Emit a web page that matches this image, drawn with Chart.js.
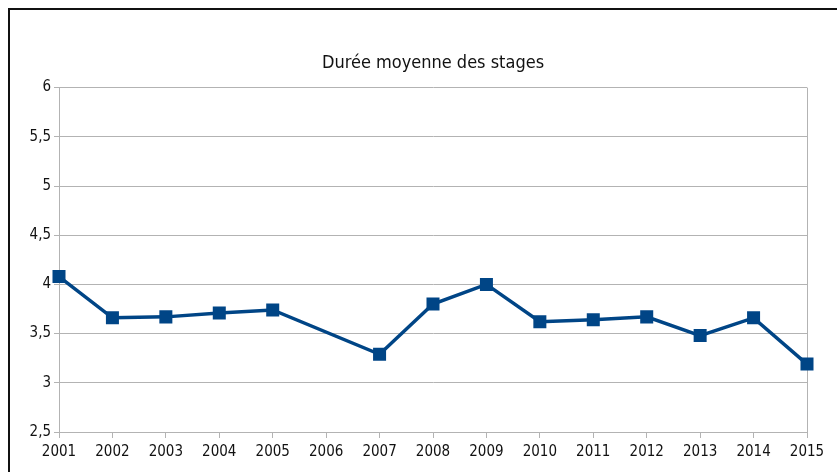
<!DOCTYPE html>
<html>
<head>
<meta charset="utf-8">
<script src="https://cdn.jsdelivr.net/npm/chart.js@4/dist/chart.umd.min.js"></script>
<style>
  html, body { margin: 0; padding: 0; background: #fff; }
  body { width: 837px; height: 472px; position: relative; overflow: hidden; }
  .frame {
    position: absolute; left: 8px; top: 8px; width: 900px; height: 500px;
    border-left: 2px solid #111; border-top: 2px solid #111;
  }
  .wrap { position: absolute; left: 0; top: 0; width: 837px; height: 472px; }
</style>
</head>
<body>
<div class="frame"></div>
<div class="wrap"><canvas id="chart"></canvas></div>
<script>
const years = ['2001', '2002', '2003', '2004', '2005', '2006', '2007', '2008',
               '2009', '2010', '2011', '2012', '2013', '2014', '2015'];
// 2006 has no value, the line joins 2005 to 2007
const duree = [4.08, 3.66, 3.67, 3.71, 3.74, null, 3.29, 3.80,
               4.00, 3.62, 3.64, 3.67, 3.48, 3.66, 3.19];
const yMin = 2.5, yMax = 6, yStep = 0.5;

const FONT = "'Liberation Sans Narrow', 'DejaVu Sans Condensed', 'Liberation Sans', sans-serif";
const BLUE = '#004586';
const GRID = '#b3b3b3';

const ctx = document.getElementById('chart').getContext('2d');

new Chart(ctx, {
  type: 'line',
  data: {
    labels: years,
    datasets: [{
      label: 'Durée moyenne des stages',
      data: duree,
      borderColor: BLUE,
      backgroundColor: BLUE,
      borderWidth: 3.5,
      pointStyle: 'rect',
      pointRadius: 9.2,
      pointBorderWidth: 0,
      pointBackgroundColor: BLUE,
      spanGaps: true,
      tension: 0,
      fill: false,
    }],
  },
  options: {
    animation: false,
    responsive: true,
    maintainAspectRatio: false,
    // left padding keeps the title centred over the plot area
    layout: { padding: { left: 29, right: 0, top: 0, bottom: 0 } },
    plugins: {
      legend:  { display: false },
      tooltip: { enabled: false },
      title: {
        display: true,
        text: 'Durée moyenne des stages',
        color: '#111',
        font: { size: 18, family: FONT, weight: 'normal' },
        padding: { top: 53, bottom: 13 },
      },
    },
    scales: {
      x: {
        offset: false,
        ticks: { color: '#111', font: { size: 15, family: FONT }, padding: 5, maxRotation: 0, autoSkip: false },
        grid: {
          color: (c) => c.index === years.length - 1 ? GRID : 'rgba(0,0,0,0)',
          tickColor: GRID,
          tickLength: 6,
          lineWidth: 1,
        },
        border: { color: GRID, width: 1 },
        afterFit: (s) => { s.height = 40; },
      },
      y: {
        min: yMin,
        max: yMax,
        ticks: {
          stepSize: yStep,
          color: '#111',
          font: { size: 15, family: FONT },
          padding: 3,
          callback: (v) => String(v).replace('.', ','),
        },
        grid: { color: GRID, tickColor: GRID, tickLength: 5, lineWidth: 1 },
        border: { color: GRID, width: 1 },
        afterFit: (s) => { s.width = 30; },
      },
      y2: {
        position: 'right',
        min: yMin,
        max: yMax,
        ticks: { display: false },
        grid: { display: false },
        border: { display: false },
        afterFit: (s) => { s.width = 30; },
      },
    },
  },
});
</script>
</body>
</html>
